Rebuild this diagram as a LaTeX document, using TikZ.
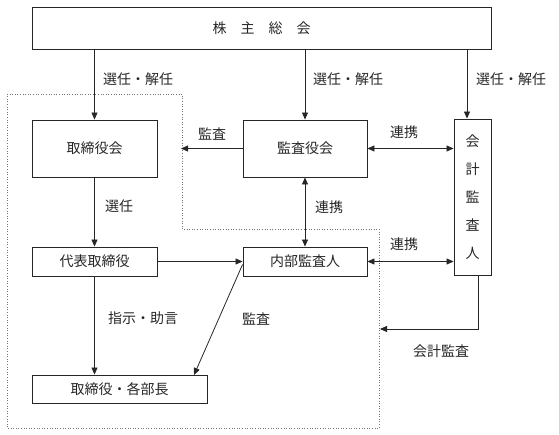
\documentclass[tikz,border=0pt]{standalone}
\usepackage{fontspec}
\newfontfamily\cjk{Noto Sans CJK JP}
\usetikzlibrary{arrows.meta}
\begin{document}
\begin{tikzpicture}[x=1pt,y=-1pt,
  every node/.style={font=\cjk\fontsize{14}{16}\selectfont, text=black!85},
  box/.style={draw=black!85, line width=0.9pt, fill=white, inner sep=0pt, anchor=center},
  conn/.style={draw=black!85, line width=0.8pt, -{Triangle[length=7pt,width=6pt]}},
  biconn/.style={draw=black!85, line width=0.8pt, {Triangle[length=7pt,width=6pt]}-{Triangle[length=7pt,width=6pt]}},
  lbl/.style={inner sep=0pt},
  region/.style={draw=black!55, dotted, line width=0.6pt}]
\useasboundingbox (0,0) rectangle (559,435);
\draw[region] (7,94) -- (182,94) -- (182,229) -- (379,229) -- (379,428) -- (7,428) -- cycle;

\node[box, minimum width=459pt, minimum height=42pt] (soukai) at (261.5,28) {株\hspace{1em}主\hspace{1em}総\hspace{1em}会};
\node[box, minimum width=125pt, minimum height=57pt] (tori) at (94.5,148.5) {取締役会};
\node[box, minimum width=124pt, minimum height=57pt] (kansa) at (305,148.5) {監査役会};
\node[box, minimum width=37pt, minimum height=156pt, align=center, font=\cjk\fontsize{14}{28}\selectfont] (kaikei) at (472.5,197) {会\\計\\監\\査\\人};
\node[box, minimum width=125pt, minimum height=29pt] (daihyo) at (94.5,261.5) {代表取締役};
\node[box, minimum width=124pt, minimum height=29pt] (naibu) at (305,261.5) {内部監査人};
\node[box, minimum width=175pt, minimum height=28pt] (bucho) at (119.5,389) {取締役・各部長};

\coordinate (kt) at (181,148.5);
\coordinate (ka) at (380,329);
\coordinate (bt) at (194,375);

\draw[conn] (tori.north |- soukai.south) -- (tori.north);
\draw[conn] (kansa.north |- soukai.south) -- (kansa.north);
\draw[conn] ([xshift=-5.5pt]kaikei.north |- soukai.south) -- ([xshift=-5.5pt]kaikei.north);
\draw[conn] (kansa.west) -- (kt);
\draw[biconn] (kansa.east) -- (kansa.east -| kaikei.west);
\draw[conn] (tori.south) -- (daihyo.north);
\draw[biconn] (kansa.south) -- (naibu.north);
\draw[conn] (daihyo.east) -- (naibu.west);
\draw[biconn] (naibu.east) -- (naibu.east -| kaikei.west);
\draw[conn] ([yshift=-3pt]naibu.west) -- (bt);
\draw[conn] (daihyo.south) -- (daihyo.south |- bucho.north);
\draw[conn] ([xshift=5.5pt]kaikei.south) |- (ka);

\node[lbl] (l1) at (138,79) {選任・解任};
\node[lbl] (l2) at (348,79) {選任・解任};
\node[lbl] (l3) at (511,79) {選任・解任};
\node[lbl] (l4) at (212,134) {監査};
\node[lbl] (l5) at (404,132) {連携};
\node[lbl] (l6) at (119,206) {選任};
\node[lbl] (l7) at (329,207) {連携};
\node[lbl] (l8) at (404,244) {連携};
\node[lbl] (l9) at (143,318) {指示・助言};
\node[lbl] (l10) at (256,319) {監査};
\node[lbl] (l11) at (441,351) {会計監査};
\end{tikzpicture}
\end{document}
